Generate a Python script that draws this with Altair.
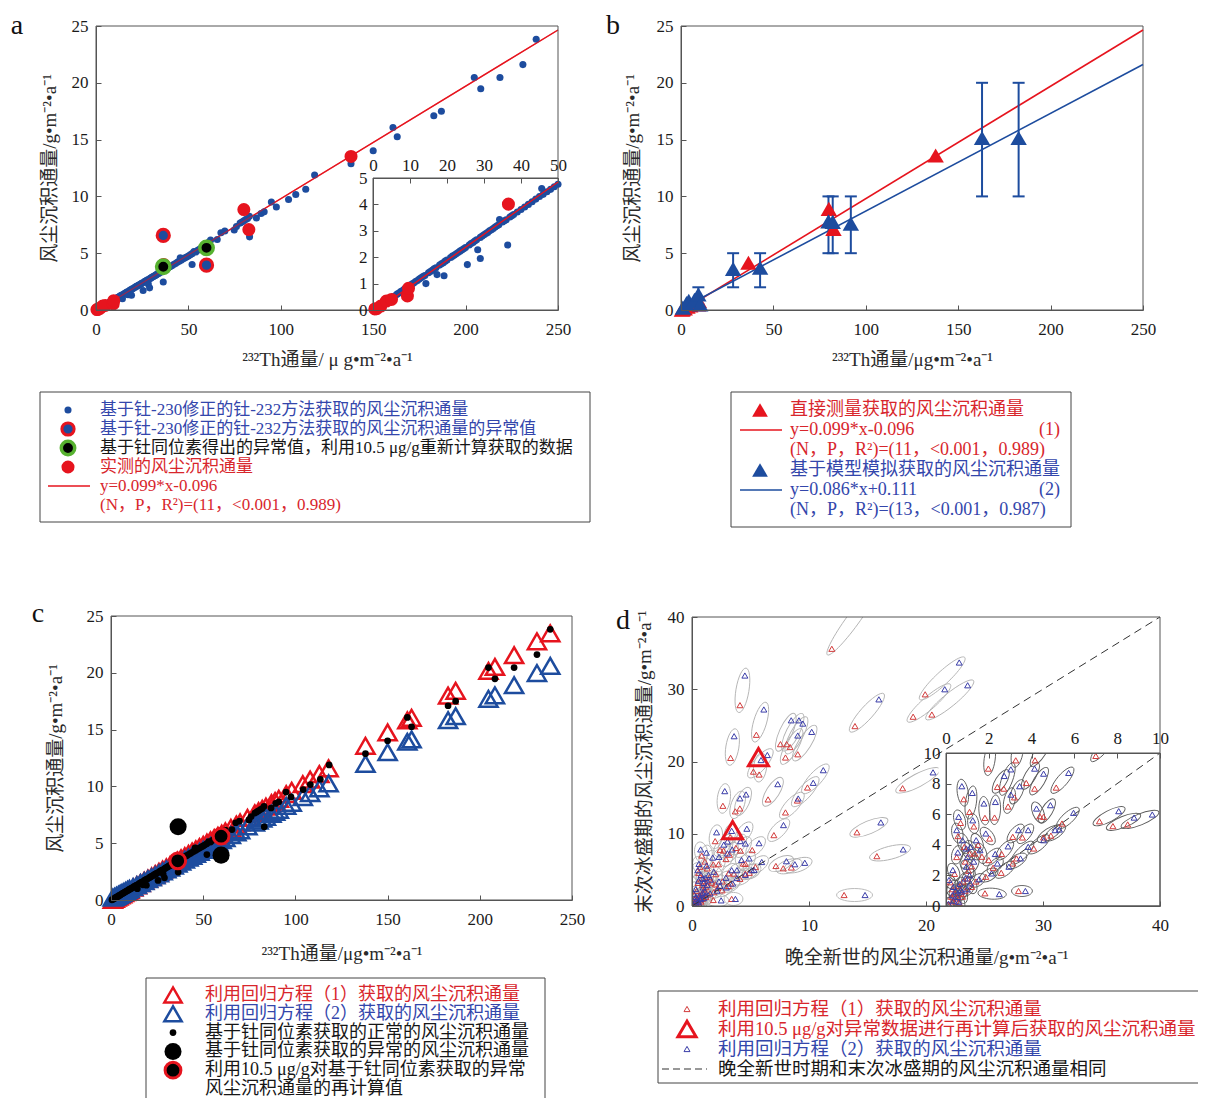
import math
import pandas as pd
import altair as alt

# ---------------- data ----------------
# panel a / c : Th-230 corrected Th-232 dust flux (normal values)
a_x = [0.5, 1, 1.5, 2, 2.5, 3, 3.5, 4, 4.5, 5,
       5.5, 6, 6.5, 7, 7.5, 8, 8.5, 9, 9.5, 10,
       10.5, 11, 11.5, 12, 12.5, 13, 13.5, 14, 14.3, 15,
       15.5, 16, 16.5, 17, 17.3, 18, 18.5, 19, 19.2, 19.5,
       20, 21, 21.5, 22, 22.5, 23, 23.5, 24, 24.5, 25,
       25.5, 26, 26.5, 27, 27.5, 28, 28.3, 29, 29, 29.5,
       30, 30.5, 31, 31.5, 32, 32.5, 33, 33.5, 34, 34.2,
       35, 35.5, 36, 36.4, 37, 37.5, 38, 39, 40, 41,
       42, 43, 44, 45, 45.6, 46, 47, 48, 49, 50,
       51, 52, 52, 53, 54, 55, 56, 57, 58, 59,
       61, 62, 65.6, 67.6, 69.7, 74.8, 76, 78, 79, 80,
       81, 82, 83, 83.1, 86.8, 89.3, 91, 94.9, 97.6, 104.2,
       108.1, 113.5, 118.3, 138, 150, 160.7, 163, 182.8, 186.9, 204.7,
       208.2, 218.6, 231, 238.2]
a_y = [0.02, 0.06, 0.1, 0.15, 0.2, 0.25, 0.3, 0.34, 0.4, 0.44,
       0.5, 0.54, 0.6, 0.64, 0.7, 0.74, 0.79, 0.83, 0.89, 0.93,
       0.98, 1.02, 1.08, 1.12, 1.17, 1.22, 1.27, 1.31, 1.0, 1.41,
       1.46, 1.5, 1.56, 1.6, 1.34, 1.7, 1.75, 1.79, 1.3, 1.85,
       1.89, 1.99, 2.04, 2.08, 2.13, 2.18, 2.23, 2.27, 2.32, 2.37,
       1.72, 2.46, 2.52, 2.56, 2.61, 2.66, 2.28, 2.75, 1.95, 2.8,
       2.85, 2.9, 2.94, 3.0, 3.04, 3.09, 3.14, 3.19, 3.23, 3.43,
       3.33, 3.38, 3.42, 2.46, 3.52, 3.57, 3.62, 3.71, 3.81, 3.9,
       4.0, 4.1, 4.2, 4.3, 4.6, 4.38, 4.48, 4.57, 4.67, 4.76,
       4.86, 4.0, 4.96, 5.15, 5.1, 5.25, 5.35, 5.45, 5.5, 5.6,
       5.95, 6.15, 6.2, 6.8, 6.95, 7.05, 7.35, 7.65, 7.75, 7.85,
       7.96, 8.05, 8.25, 6.44, 8.1, 8.5, 8.64, 9.5, 9.07, 9.72,
       10.16, 10.63, 11.89, 12.88, 14.02, 16.07, 15.25, 17.1, 17.5, 20.46,
       19.47, 20.46, 21.6, 23.83]
a_red_x = [0.5, 1, 2.1, 3.6, 5, 9.3, 9.6, 36.6, 80, 82.7, 138]
a_red_y = [0.04, 0.05, 0.15, 0.34, 0.4, 0.53, 0.82, 4.01, 8.84, 7.08, 13.52]
a_out_x = [36.4, 59.8]
a_out_y = [6.56, 3.95]
a_rec_x = [36.4, 59.8]
a_rec_y = [3.8, 5.47]
a_fit_x = [1, 250]
a_fit_y = [0.0, 24.65]
a_fit_in_x = [1, 50]
a_fit_in_y = [0.0, 4.85]

# panel b
b_red_x = [0.5, 1, 2, 3.5, 5, 9.3, 9.6, 36.5, 80, 82.5, 137.8]
b_red_y = [0.04, 0.08, 0.15, 0.3, 0.4, 0.5, 0.8, 4.16, 8.9, 7.14, 13.6]
b_blue_x = [1, 3, 4.2, 7.3, 9.4, 10.4, 28.2, 42.8, 79.8, 82.1, 91.9, 162.9, 182.7]
b_blue_y = [0.2, 0.6, 0.8, 0.9, 1.38, 0.5, 3.63, 3.72, 7.8, 7.75, 7.61, 15.14, 15.14]
b_err_x = [9.4, 28.2, 42.8, 79.8, 82.1, 91.9, 162.9, 182.7]
b_err_lo = [0.5, 2, 2, 5, 5, 5, 10, 10]
b_err_hi = [2, 5, 5, 10, 10, 10, 20, 20]
b_fit1_x = [1, 250]
b_fit1_y = [0.0, 24.65]
b_fit2_x = [0, 250]
b_fit2_y = [0.11, 21.61]

# panel c
c_x = [1, 2, 3, 4, 5, 6, 7, 8, 9, 10,
       12, 14, 16, 18, 20, 22, 24, 26, 28, 30, 32, 34, 36, 38, 40,
       42, 44, 46, 48, 50, 52, 54, 56, 58, 60,
       62, 65, 68, 70, 74, 78, 80, 82, 84, 87, 89, 91, 95, 98,
       104, 108, 113, 118,
       138, 150, 160.7, 163, 182.8, 186.9, 204.7, 208.2, 218.6, 231, 238.2]
c_red_y = [0.00, 0.10, 0.20, 0.30, 0.40, 0.50, 0.60, 0.70, 0.80, 0.89,
           1.09, 1.29, 1.49, 1.69, 1.88, 2.08, 2.28, 2.48, 2.68, 2.87, 3.07, 3.27, 3.47, 3.67, 3.86,
           4.06, 4.26, 4.46, 4.66, 4.85, 5.05, 5.25, 5.45, 5.65, 5.84,
           6.04, 6.34, 6.64, 6.83, 7.23, 7.63, 7.82, 8.02, 8.22, 8.52, 8.71, 8.91, 9.31, 9.61,
           10.20, 10.60, 11.09, 11.59,
           13.57, 14.75, 15.81, 16.04, 18.00, 18.41, 20.17, 20.52, 21.55, 22.77, 23.48]
c_blue_y = [0.20, 0.28, 0.37, 0.45, 0.54, 0.63, 0.71, 0.80, 0.89, 0.97,
            1.14, 1.31, 1.49, 1.66, 1.83, 2.00, 2.17, 2.35, 2.52, 2.69, 2.86, 3.03, 3.21, 3.38, 3.55,
            3.72, 3.89, 4.07, 4.24, 4.41, 4.58, 4.75, 4.93, 5.10, 5.27,
            5.44, 5.70, 5.96, 6.13, 6.47, 6.82, 6.99, 7.16, 7.31, 7.59, 7.76, 7.94, 8.28, 8.54,
            9.06, 9.40, 9.83, 10.26,
            11.98, 13.01, 13.93, 14.13, 15.83, 16.18, 17.71, 18.02, 18.91, 19.98, 20.60]
c_big_x = [36.4, 59.7]
c_big_y = [6.45, 3.95]
c_rec_x = [36.2, 59.7]
c_rec_y = [3.45, 5.62]

# panel d : paired estimates (eq.1 red, eq.2 blue) per site
d_red_x = [11.95, 4.1, 5.5, 3.3, 5.25, 5.74, 7.56, 8.09, 8.38, 7.99,
           9.04, 13.93, 19.93, 18.9, 20.5, 9.87, 9.0, 7.99, 6.5, 2.64,
           4.09, 3.7, 7.0, 18.0, 14.1, 15.8, 13.0, 1.98, 4.16, 3.26,
           2.4, 2.7, 3.75, 4.14, 3.2, 5.15, 0.83, 1.1, 1.82, 2.27,
           2.9, 4.38, 4.56, 5.42, 7.17, 7.8, 8.49, 4.56, 3.57, 3.12,
           3.3, 3.12, 2.58, 2.2, 3.39, 1.82, 0.56, 0.68, 0.86, 1.1,
           1.35, 1.68, 1.5, 2.04, 0.2, 0.4, 1.05, 1.2, 0.77, 0.62,
           1.86, 0.1, 0.3, 0.5, 0.7, 0.9, 0.4, 0.25, 0.6, 0.8,
           1.0, 0.3, 1.2, 0.9, 0.5, 1.4, 4.1, 4.9, 1.3, 2.6,
           2.0]
d_red_y = [35.6, 27.8, 23.7, 20.5, 18.6, 18.2, 22.4, 22.4, 22.0, 20.55,
           21.0, 24.9, 29.3, 26.2, 26.5, 16.4, 14.6, 12.95, 14.75, 13.87,
           13.5, 13.1, 9.81, 16.3, 10.2, 6.9, 1.52, 8.98, 9.52, 9.52,
           7.78, 7.67, 8.04, 7.67, 7.1, 7.74, 6.98, 6.15, 5.76, 5.78,
           6.5, 5.87, 5.83, 5.39, 5.54, 5.22, 5.33, 4.48, 4.48, 4.52,
           3.11, 2.78, 2.17, 2.5, 0.98, 0.83, 4.57, 5.43, 3.87, 3.43,
           3.43, 3.22, 4.0, 4.41, 1.55, 2.1, 2.3, 1.25, 0.61, 0.2,
           1.91, 0.1, 0.3, 0.5, 0.8, 1.0, 0.8, 0.6, 1.3, 1.6,
           1.8, 1.1, 2.6, 2.9, 3.2, 1.6, 3.76, 4.6, 5.2, 3.4,
           3.0]
d_blue_x = [15.5, 4.52, 6.14, 3.6, 6.44, 5.9, 8.48, 9.14, 9.47, 9.04,
            10.23, 15.97, 22.84, 21.6, 23.56, 11.22, 10.36, 9.08, 7.33, 2.8,
            4.62, 4.1, 7.82, 20.6, 16.14, 18.05, 14.79, 2.1, 4.69, 3.39,
            2.72, 3.03, 4.14, 4.56, 3.44, 5.73, 0.74, 1.23, 1.77, 2.31,
            3.03, 4.23, 4.88, 5.96, 8.07, 8.79, 9.64, 5.1, 3.84, 3.39,
            3.84, 3.48, 2.94, 2.4, 3.71, 2.49, 0.5, 0.59, 0.77, 0.95,
            1.14, 1.59, 1.41, 1.86, 0.14, 0.32, 0.95, 1.14, 0.68, 0.59,
            2.13, 0.12, 0.35, 0.55, 0.75, 1.0, 0.45, 0.3, 0.65, 0.9,
            1.1, 0.35, 1.3, 1.0, 0.55, 1.55, 4.56, 5.3, 1.25, 2.9,
            2.3]
d_blue_y = [43.5, 31.9, 27.2, 23.5, 20.9, 20.2, 25.7, 25.7, 25.25, 23.6,
            24.1, 28.6, 33.7, 30.0, 30.55, 18.8, 17.05, 14.88, 16.87, 15.9,
            15.44, 14.9, 11.2, 18.5, 11.57, 7.83, 1.52, 10.2, 10.7, 10.4,
            8.5, 8.93, 8.98, 8.65, 7.83, 8.7, 7.83, 7.39, 6.7, 6.8,
            7.28, 6.37, 6.59, 6.09, 6.2, 5.78, 5.98, 4.96, 4.96, 4.96,
            3.87, 3.11, 2.57, 2.78, 0.98, 0.78, 4.96, 5.83, 4.3, 3.76,
            3.87, 3.65, 4.3, 4.74, 1.7, 2.35, 2.57, 1.48, 1.04, 0.28,
            2.13, 0.15, 0.35, 0.6, 0.95, 1.1, 1.0, 0.7, 1.45, 1.8,
            2.0, 1.25, 2.9, 3.2, 3.5, 1.75, 4.3, 5.0, 5.6, 3.9,
            3.4]
d_big_x = [3.47, 5.68]
d_big_y = [10.5, 20.6]
d_one_x = [0, 40]
d_one_y = [0, 40]
d_one_in_x = [0, 10]
d_one_in_y = [0, 10]

# ---------------- text ----------------
T_TH_A = "²³²Th通量/ μ g•m⁻²•a⁻¹"
T_TH = "²³²Th通量/μg•m⁻²•a⁻¹"
T_FLUX = "风尘沉积通量/g•m⁻²•a⁻¹"
T_DX = "晚全新世的风尘沉积通量/g•m⁻²•a⁻¹"
T_DY = "末次冰盛期的风尘沉积通量/g•m⁻²•a⁻¹"
leg_a_text = ["基于钍-230修正的钍-232方法获取的风尘沉积通量",
              "基于钍-230修正的钍-232方法获取的风尘沉积通量的异常值",
              "基于钍同位素得出的异常值，利用10.5 μg/g重新计算获取的数据",
              "实测的风尘沉积通量",
              "y=0.099*x-0.096",
              "(N，P，R²)=(11，<0.001，0.989)"]
leg_b_text = ["直接测量获取的风尘沉积通量",
              "y=0.099*x-0.096",
              "(N，P，R²)=(11，<0.001，0.989)",
              "基于模型模拟获取的风尘沉积通量",
              "y=0.086*x+0.111",
              "(N，P，R²)=(13，<0.001，0.987)"]
leg_c_text = ["利用回归方程（1）获取的风尘沉积通量",
              "利用回归方程（2）获取的风尘沉积通量",
              "基于钍同位素获取的正常的风尘沉积通量",
              "基于钍同位素获取的异常的风尘沉积通量",
              "利用10.5 μg/g对基于钍同位素获取的异常",
              "风尘沉积通量的再计算值"]
leg_d_text = ["利用回归方程（1）获取的风尘沉积通量",
              "利用10.5 μg/g对异常数据进行再计算后获取的风尘沉积通量",
              "利用回归方程（2）获取的风尘沉积通量",
              "晚全新世时期和末次冰盛期的风尘沉积通量相同"]

# ---------------- style / layout ----------------
FL = "Liberation Serif"
FM = "Liberation Serif, Noto Sans CJK SC, sans-serif"
BLUE = "#1d4c9e"
RED = "#e6141e"
GREEN = "#57b230"
BLUE_T = "#3346ab"
RED_T = "#d8262c"
BLACK_T = "#161616"
D_RED = "#d23c3c"
D_BLUE = "#3a3da8"
FRAME = "#555555"
W, H = 1190, 1090

PA = ([0, 250], [88, 550], [0, 25], [302, 18])
PAI = ([0, 50], [365, 550], [0, 5], [302, 170])
PB = ([0, 250], [673, 1135], [0, 25], [302, 18])
PC = ([0, 250], [103, 564], [0, 25], [892, 608])
PD = ([0, 40], [684, 1152], [0, 40], [898, 609])
PDI = ([0, 10], [938, 1152], [0, 10], [898, 745])


def sc(dom, rng):
    return alt.Scale(domain=dom, range=rng, zero=False, nice=False)


def E(xf, yf, P, xaxis=None, yaxis=None):
    xdom, xr, ydom, yr = P
    return dict(x=alt.X(xf, type="quantitative", scale=sc(xdom, xr), axis=xaxis),
                y=alt.Y(yf, type="quantitative", scale=sc(ydom, yr), axis=yaxis))


def axis(orient, offset, values, title=None, pad=8, **kw):
    d = dict(orient=orient, offset=offset, values=values, grid=False, labelFont=FL,
             labelFontSize=17, labelColor="#1a1a1a", labelPadding=pad, labelFlush=False,
             labelOverlap=False, ticks=False, domainColor=FRAME, zindex=1, title=title)
    if title is not None:
        d.update(titleFont=FM, titleFontSize=19, titleFontWeight="normal", titleColor="#2a2a2a")
    d.update(kw)
    return alt.Axis(**d)


def xaxis_bottom(P, values, title, ty, pad=11):
    xr, yr = P[1], P[3]
    return axis("bottom", yr[0] - H, values, title, pad=pad, titleX=(xr[0] + xr[1]) / 2, titleY=ty,
                titleAlign="center", titleBaseline="middle", titleAngle=0)


def yaxis_left(P, values, title, tx, pad=8):
    xr, yr = P[1], P[3]
    return axis("left", -xr[0], values, title, pad=pad, titleX=tx, titleY=(yr[0] + yr[1]) / 2,
                titleAngle=270, titleAlign="center", titleBaseline="bottom")


def tick_axis(orient, offset, values):
    return alt.Axis(orient=orient, offset=offset, values=values, labels=False, domain=False,
                    ticks=True, tickSize=5, tickColor=FRAME, grid=False, title=None, zindex=1)


def box_df(bx, by):
    return pd.DataFrame({"x0": [bx[0]], "x1": [bx[1]], "y0": [by[0]], "y1": [by[1]]})


def rect(P, bx=None, by=None, xaxis=None, yaxis=None, fill=None, stroke=FRAME):
    bx = bx if bx is not None else P[0]
    by = by if by is not None else P[2]
    props = dict(strokeWidth=1, stroke=stroke) if stroke else dict(strokeWidth=0)
    if fill:
        props["fill"] = fill
    else:
        props["fillOpacity"] = 0
    enc = E("x0", "y0", P, xaxis, yaxis)
    return alt.Chart(box_df(bx, by)).mark_rect(**props).encode(
        x=enc["x"], x2=alt.X2("x1"), y=enc["y"], y2=alt.Y2("y1"))


def inward_ticks(P, xvals, yvals, top_edge=False):
    """ticks pointing into the plot, along the bottom (or top) and left edges"""
    xr, yr = P[1], P[3]
    if top_edge:
        xa = tick_axis("bottom", yr[1] - H, xvals)
    else:
        xa = tick_axis("top", -yr[0], xvals)
    ya = tick_axis("right", xr[0] - W, yvals)
    return rect(P, stroke=None, xaxis=xa, yaxis=ya)


def xy_df(xs, ys):
    return pd.DataFrame({"x": xs, "y": ys})


def pts(df, P, **mk):
    mk.setdefault("opacity", 1)
    return alt.Chart(df).mark_point(**mk).encode(**E("x", "y", P))


def line(df, P, **mk):
    return alt.Chart(df).mark_line(**mk).encode(**E("x", "y", P))


# ---------------- panel a ----------------
dfA = xy_df(a_x, a_y)
dfA_red = xy_df(a_red_x, a_red_y)
dfAI = dfA[(dfA.x <= 50) & (dfA.y <= 5)]
dfAI_red = dfA_red[dfA_red.x <= 50]

layers = [
    line(xy_df(a_fit_x, a_fit_y), PA, color=RED, strokeWidth=1.4),
    pts(dfA, PA, shape="circle", filled=True, color=BLUE, size=50),
    line(xy_df(a_fit_x, a_fit_y), PA, color=RED, strokeWidth=1.2, opacity=0.6),
    pts(xy_df(a_out_x, a_out_y), PA, shape="circle", filled=True, fill=BLUE, stroke=RED,
        strokeWidth=3, size=150),
    pts(dfA_red, PA, shape="circle", filled=True, color=RED, size=170),
    pts(xy_df(a_rec_x, a_rec_y), PA, shape="circle", filled=True, fill="#000000", stroke=GREEN,
        strokeWidth=3.5, size=180),
    rect(PA, xaxis=xaxis_bottom(PA, [0, 50, 100, 150, 200, 250], T_TH_A, 49),
         yaxis=yaxis_left(PA, [0, 5, 10, 15, 20, 25], T_FLUX, -37)),
    inward_ticks(PA, [0, 50, 100, 150, 200, 250], [0, 5, 10, 15, 20, 25]),
    rect(PAI, fill="white",
         xaxis=axis("top", -PAI[3][1], [0, 10, 20, 30, 40, 50], pad=4),
         yaxis=axis("left", -PAI[1][0], [0, 1, 2, 3, 4, 5], pad=6)),
    inward_ticks(PAI, [0, 10, 20, 30, 40, 50], [0, 1, 2, 3, 4, 5], top_edge=True),
    pts(dfAI, PAI, shape="circle", filled=True, color=BLUE, size=50),
    line(xy_df(a_fit_in_x, a_fit_in_y), PAI, color=RED, strokeWidth=1.4),
    pts(dfAI_red, PAI, shape="circle", filled=True, color=RED, size=170),
]

# ---------------- panel b ----------------
dfErr = pd.DataFrame({"x": b_err_x, "lo": b_err_lo, "hi": b_err_hi})
encErr = E("x", "lo", PB)
layers += [
    rect(PB, xaxis=xaxis_bottom(PB, [0, 50, 100, 150, 200, 250], T_TH, 49),
         yaxis=yaxis_left(PB, [0, 5, 10, 15, 20, 25], T_FLUX, -39)),
    inward_ticks(PB, [0, 50, 100, 150, 200, 250], [0, 5, 10, 15, 20, 25]),
    line(xy_df(b_fit1_x, b_fit1_y), PB, color=RED, strokeWidth=1.6),
    line(xy_df(b_fit2_x, b_fit2_y), PB, color=BLUE, strokeWidth=1.6),
    alt.Chart(dfErr).mark_rule(color=BLUE, strokeWidth=2).encode(
        x=encErr["x"], y=encErr["y"], y2=alt.Y2("hi")),
    alt.Chart(dfErr).mark_tick(orient="horizontal", size=12, thickness=2, color=BLUE, opacity=1).encode(
        **E("x", "lo", PB)),
    alt.Chart(dfErr).mark_tick(orient="horizontal", size=12, thickness=2, color=BLUE, opacity=1).encode(
        **E("x", "hi", PB)),
    pts(xy_df(b_red_x, b_red_y), PB, shape="triangle-up", filled=True, color=RED, size=270),
    pts(xy_df(b_blue_x, b_blue_y), PB, shape="triangle-up", filled=True, color=BLUE, size=270),
]

# ---------------- panel c ----------------
layers += [
    rect(PC, xaxis=xaxis_bottom(PC, [0, 50, 100, 150, 200, 250], T_TH, 53),
         yaxis=yaxis_left(PC, [0, 5, 10, 15, 20, 25], T_FLUX, -46)),
    inward_ticks(PC, [0, 50, 100, 150, 200, 250], [0, 5, 10, 15, 20, 25]),
    pts(xy_df(c_x, c_red_y), PC, shape="triangle-up", filled=False, color=RED, size=330,
        strokeWidth=2.5),
    pts(xy_df(c_x, c_blue_y), PC, shape="triangle-up", filled=False, color=BLUE, size=330,
        strokeWidth=2.5),
    pts(dfA, PC, shape="circle", filled=True, color="#000000", size=45),
    pts(xy_df(c_big_x, c_big_y), PC, shape="circle", filled=True, color="#000000", size=290),
    pts(xy_df(c_rec_x, c_rec_y), PC, shape="circle", filled=True, fill="#000000", stroke=RED,
        strokeWidth=3, size=250),
]

# ---------------- panel d ----------------
KAPPA = 0.5523


def ellipse_path(r):
    k = KAPPA
    return (f"M-1,0C-1,{-k * r:.4f},{-k:.4f},{-r:.4f},0,{-r:.4f}"
            f"C{k:.4f},{-r:.4f},1,{-k * r:.4f},1,0"
            f"C1,{k * r:.4f},{k:.4f},{r:.4f},0,{r:.4f}"
            f"C{-k:.4f},{r:.4f},-1,{k * r:.4f},-1,0Z")


dfPairs = pd.DataFrame({"rx": d_red_x, "ry": d_red_y, "bx": d_blue_x, "by": d_blue_y})
dfPairsIn = dfPairs[(dfPairs[["ry", "by"]].max(axis=1) <= 12)
                    & (dfPairs[["rx", "bx"]].max(axis=1) <= 11)]


def ellipse_df(pairs, P, minor, pad):
    kx = (P[1][1] - P[1][0]) / (P[0][1] - P[0][0])
    ky = (P[3][0] - P[3][1]) / (P[2][1] - P[2][0])
    rows = []
    for rx, ry, bx, by in pairs[["rx", "ry", "bx", "by"]].itertuples(index=False):
        dxp = (bx - rx) * kx
        dyp = -(by - ry) * ky
        length = max(math.hypot(dxp, dyp) + pad, minor + 4)
        rows.append({"x": (rx + bx) / 2, "y": (ry + by) / 2, "sz": length ** 2,
                     "ang": math.degrees(math.atan2(dyp, dxp)) % 360,
                     "shp": ellipse_path(minor / length)})
    return pd.DataFrame(rows)


def ellipses(pairs, P, minor, pad, color):
    return alt.Chart(ellipse_df(pairs, P, minor, pad)).mark_point(
        filled=False, color=color, strokeWidth=0.9, opacity=1).encode(
        **E("x", "y", P),
        shape=alt.Shape("shp:N", scale=None),
        size=alt.Size("sz:Q", scale=None),
        angle=alt.Angle("ang:Q", scale=None))


def tri(pairs, xc, yc, P, color, size=36, sw=1.0):
    df = pd.DataFrame({"x": pairs[xc].values, "y": pairs[yc].values})
    return pts(df, P, shape="triangle-up", filled=False, color=color, size=size, strokeWidth=sw)


dfBig = xy_df(d_big_x, d_big_y)
layers += [
    ellipses(dfPairs, PD, 13, 15, "#b3b3b3"),
    tri(dfPairs, "rx", "ry", PD, D_RED),
    tri(dfPairs, "bx", "by", PD, D_BLUE),
    pts(dfBig, PD, shape="triangle-up", filled=False, color=RED, size=400, strokeWidth=3),
    rect(PDI, fill="white", stroke=None),
    line(xy_df(d_one_in_x, d_one_in_y), PDI, color="#333333", strokeWidth=1, strokeDash=[8, 5]),
    ellipses(dfPairsIn, PDI, 11, 14, "#5a5a5a"),
    tri(dfPairsIn, "rx", "ry", PDI, D_RED),
    tri(dfPairsIn, "bx", "by", PDI, D_BLUE),
    # white masks that trim marks spilling outside the plot frames
    rect(PD, bx=[-1, 41], by=[40, 48], fill="white", stroke=None),
    rect(PD, bx=[-0.65, 0], by=[-1, 48], fill="white", stroke=None),
    rect(PD, bx=[-1, 41], by=[-1.1, 0], fill="white", stroke=None),
    rect(PD, bx=[40, 41.6], by=[-1, 48], fill="white", stroke=None),
    rect(PDI, bx=[-0.4, 10.8], by=[10, 12.2], fill="white", stroke=None),
    rect(PDI, bx=[-0.35, 0], by=[-0.5, 10], fill="white", stroke=None),
    line(xy_df(d_one_x, d_one_y), PD, color="#333333", strokeWidth=1, strokeDash=[8, 5]),
    rect(PDI, xaxis=axis("top", -PDI[3][1], [0, 2, 4, 6, 8, 10], pad=6),
         yaxis=axis("left", -PDI[1][0], [0, 2, 4, 6, 8, 10], pad=6)),
    inward_ticks(PDI, [0, 2, 4, 6, 8, 10], [0, 2, 4, 6, 8, 10], top_edge=True),
    rect(PD, xaxis=xaxis_bottom(PD, [0, 10, 20, 30, 40], T_DX, 51),
         yaxis=yaxis_left(PD, [0, 10, 20, 30, 40], T_DY, -38)),
    inward_ticks(PD, [0, 10, 20, 30, 40], [0, 10, 20, 30, 40]),
]


# ---------------- legends ----------------
def rows_y(n, y0, y1):
    return alt.Y("row:Q", scale=alt.Scale(domain=[0, n - 1], range=[y0, y1], zero=False, nice=False),
                 axis=None)


def leg_text(texts, colors, n, y0, y1, x, rows=None, align="left", fs=18):
    df = pd.DataFrame({"row": rows if rows is not None else list(range(len(texts))),
                       "t": texts, "c": colors})
    return alt.Chart(df).mark_text(align=align, baseline="middle", font=FM, fontSize=fs).encode(
        x=alt.value(x), y=rows_y(n, y0, y1), text="t:N", color=alt.Color("c:N", scale=None))


def leg_sym(row, n, y0, y1, x, **mk):
    mk.setdefault("opacity", 1)
    return alt.Chart(pd.DataFrame({"row": [row]})).mark_point(**mk).encode(
        x=alt.value(x), y=rows_y(n, y0, y1))


def leg_line(row, n, y0, y1, xa, xb, **mk):
    return alt.Chart(pd.DataFrame({"row": [row]})).mark_rule(**mk).encode(
        x=alt.value(xa), x2=alt.value(xb), y=rows_y(n, y0, y1))


def leg_box(xa, xb, ya, yb):
    return alt.Chart(pd.DataFrame({"k": [0]})).mark_rect(
        fillOpacity=0, stroke="#444444", strokeWidth=1).encode(
        x=alt.value(xa), x2=alt.value(xb), y=alt.value(ya), y2=alt.value(yb))


def letter(t, x, y):
    return alt.Chart(pd.DataFrame({"t": [t]})).mark_text(
        font=FL, fontSize=28, align="center", baseline="middle", color="#111111").encode(
        x=alt.value(x), y=alt.value(y), text="t:N")


# legend a
LA = (6, 402, 497)
layers += [
    leg_box(32, 582, 384, 514),
    leg_text(leg_a_text, [BLUE_T, BLUE_T, BLACK_T, RED_T, RED_T, RED_T], *LA, 92, fs=17),
    leg_sym(0, *LA, 60, shape="circle", filled=True, color=BLUE, size=50),
    leg_sym(1, *LA, 60, shape="circle", filled=True, fill=BLUE, stroke=RED, strokeWidth=3, size=150),
    leg_sym(2, *LA, 60, shape="circle", filled=True, fill="#000000", stroke=GREEN, strokeWidth=3.5,
            size=180),
    leg_sym(3, *LA, 60, shape="circle", filled=True, color=RED, size=170),
    leg_line(4, *LA, 40, 82, color=RED, strokeWidth=1.5),
]
# legend b
LB = (6, 402, 502)
layers += [
    leg_box(723, 1063, 384, 519),
    leg_text(leg_b_text, [RED_T, RED_T, RED_T, BLUE_T, BLUE_T, BLUE_T], *LB, 782),
    leg_text(["(1)", "(2)"], [RED_T, BLUE_T], *LB, 1052, rows=[1, 4], align="right"),
    leg_sym(0, *LB, 752, shape="triangle-up", filled=True, color=RED, size=250),
    leg_sym(3, *LB, 752, shape="triangle-up", filled=True, color=BLUE, size=250),
    leg_line(1, *LB, 732, 774, color=RED, strokeWidth=1.5),
    leg_line(4, *LB, 732, 774, color=BLUE, strokeWidth=1.5),
]
# legend c
LC = (6, 987, 1081)
layers += [
    leg_box(138, 537, 970, 1100),
    leg_text(leg_c_text, [RED_T, BLUE_T, BLACK_T, BLACK_T, BLACK_T, BLACK_T], *LC, 197),
    leg_sym(0, *LC, 165, shape="triangle-up", filled=False, color=RED, size=300, strokeWidth=2.5),
    leg_sym(1, *LC, 165, shape="triangle-up", filled=False, color=BLUE, size=300, strokeWidth=2.5),
    leg_sym(2, *LC, 165, shape="circle", filled=True, color="#000000", size=45),
    leg_sym(3, *LC, 165, shape="circle", filled=True, color="#000000", size=290),
    leg_sym(4, *LC, 165, shape="circle", filled=True, fill="#000000", stroke=RED, strokeWidth=3,
            size=250),
]
# legend d
LD = (4, 1001, 1061)
layers += [
    leg_box(650, 1200, 983, 1075),
    leg_text(leg_d_text, [RED_T, RED_T, BLUE_T, BLACK_T], *LD, 710, fs=18.5),
    leg_sym(0, *LD, 679, shape="triangle-up", filled=False, color=D_RED, size=36, strokeWidth=1),
    leg_sym(1, *LD, 679, shape="triangle-up", filled=False, color=RED, size=330, strokeWidth=3),
    leg_sym(2, *LD, 679, shape="triangle-up", filled=False, color=D_BLUE, size=36, strokeWidth=1),
    leg_line(3, *LD, 654, 699, color="#333333", strokeWidth=1.2, strokeDash=[7, 4]),
]
layers += [letter("a", 9, 18), letter("b", 605, 18), letter("c", 30, 606), letter("d", 615, 613)]

chart = alt.layer(*layers).resolve_scale(
    x="independent", y="independent", color="independent", shape="independent",
    size="independent", angle="independent"
).resolve_axis(x="independent", y="independent").properties(
    width=W, height=H, padding=0, autosize=alt.AutoSizeParams(type="none")
).configure_view(stroke=None)

chart.save("out.html", embed_options={"renderer": "svg", "actions": False})
